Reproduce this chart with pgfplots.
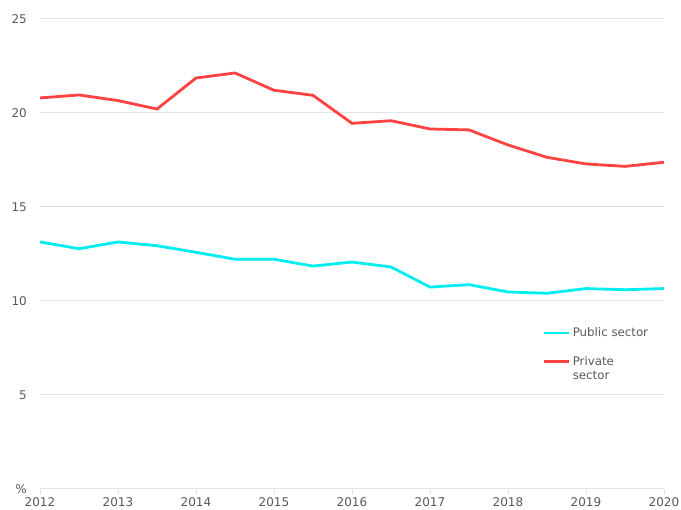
\documentclass[border=0pt]{standalone}
\usepackage{fontspec}
\setmainfont{DejaVu Sans}
\usepackage{pgfplots}
\pgfplotsset{compat=1.18}
\definecolor{pubc}{HTML}{00EEF0}
\definecolor{privc}{HTML}{FF4242}
\definecolor{txt}{HTML}{595959}
\definecolor{gridc}{HTML}{E3E3E3}
\begin{document}
\begin{tikzpicture}[x=1pt,y=1pt]
\begin{axis}[
  at={(40pt,21pt)}, anchor=south west,
  scale only axis, width=624pt, height=470pt,
  xmin=2012, xmax=2020, ymin=0, ymax=25,
  xtick={2012,2013,2014,2015,2016,2017,2018,2019,2020},
  xticklabels={2012,2013,2014,2015,2016,2017,2018,2019,2020},
  ytick={0,5,10,15,20,25},
  yticklabels={\%,5,10,15,20,25},
  axis x line*=bottom, axis y line*=left,
  x axis line style={gridc, line width=1pt, -},
  y axis line style={draw=none},
  xtick style={gridc, line width=1pt},
  ytick style={draw=none},
  tick align=outside, major tick length=5pt,
  ymajorgrids, grid style={gridc, line width=1pt},
  ticklabel style={font=\fontsize{12}{14}\selectfont, text=txt, inner sep=0pt},
  xticklabel shift=3pt,
  yticklabel shift=8pt,
  legend style={at={(axis description cs:0.801,0.352)}, anchor=north west,
    draw=none, fill=none, font=\fontsize{11.8}{14.5}\selectfont, text=txt,
    row sep=14pt, cells={anchor=west, align=left},
    nodes={inner xsep=2pt}},
  legend image code/.code={\draw[#1, line width=2.8pt] (0pt,0pt) -- (25pt,0pt);},
]
\addplot[pubc, line width=2.8pt] coordinates {
(2012,13.14) (2012.5,12.78) (2013,13.14) (2013.5,12.94) (2014,12.59) (2014.5,12.22)
(2015,12.22) (2015.5,11.86) (2016,12.07) (2016.5,11.81) (2017,10.74) (2017.5,10.87)
(2018,10.48) (2018.5,10.41) (2019,10.66) (2019.5,10.60) (2020,10.66)};
\addlegendentry{Public sector}
\addplot[privc, line width=2.8pt, legend image post style={yshift=7pt}] coordinates {
(2012,20.80) (2012.5,20.96) (2013,20.66) (2013.5,20.21) (2014,21.86) (2014.5,22.13)
(2015,21.21) (2015.5,20.94) (2016,19.45) (2016.5,19.59) (2017,19.15) (2017.5,19.10)
(2018,18.30) (2018.5,17.64) (2019,17.29) (2019.5,17.16) (2020,17.38)};
\addlegendentry{Private\\sector}
\end{axis}
\pgfresetboundingbox
\path[use as bounding box] (0,0) rectangle (681,510);
\end{tikzpicture}
\end{document}
